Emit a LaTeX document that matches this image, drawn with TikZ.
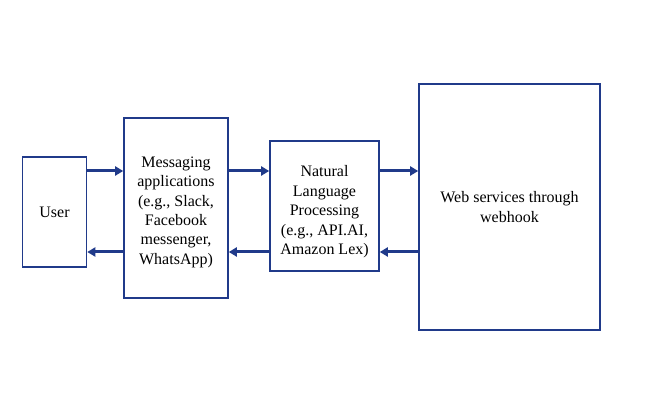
\documentclass[tikz,border=0pt]{standalone}
\usepackage{fontspec}
\setmainfont{Liberation Serif}
\usepackage{xcolor}
\usepackage{tikz}
\usetikzlibrary{arrows.meta,positioning,calc}

\definecolor{boxblue}{HTML}{203A8A}
% push a text block down inside its box
\newcommand{\pushdown}[1]{\rule{0pt}{#1}}

\begin{document}
\begin{tikzpicture}[
    x=1pt, y=1pt,
    block/.style={draw=boxblue, line width=1.6pt, align=center, inner sep=2pt,
        font=\fontsize{16}{19.4}\selectfont},
    flow/.style={draw=boxblue, line width=3pt, -{Triangle[length=8pt,width=9pt]}}
]
    \useasboundingbox (0,0) rectangle (649,415);

    % Boxes
    \node[block, minimum width=64pt, minimum height=110pt] (user) at (54.5,203) {User};
    \node[block, minimum width=104pt, minimum height=180pt] (msg) at (176,207)
        {\pushdown{19pt}Messaging\\applications\\(e.g., Slack,\\Facebook\\messenger,\\WhatsApp)};
    \node[block, minimum width=109pt, minimum height=130pt] (nlp) at (324.5,209)
        {\pushdown{23pt}Natural\\Language\\Processing\\(e.g., API.AI,\\Amazon Lex)};
    \node[block, minimum width=181pt, minimum height=246pt] (web) at (509.5,208)
        {Web services through\\webhook};

    % Levels of the arrows
    \coordinate (upper) at (0,244);
    \coordinate (lower) at (0,163);

    % Forward arrows
    \draw[flow] (user.east |- upper) -- (msg.west |- upper);
    \draw[flow] (msg.east |- upper) -- (nlp.west |- upper);
    \draw[flow] (nlp.east |- upper) -- (web.west |- upper);

    % Backward arrows
    \draw[flow] (msg.west |- lower) -- (user.east |- lower);
    \draw[flow] (nlp.west |- lower) -- (msg.east |- lower);
    \draw[flow] (web.west |- lower) -- (nlp.east |- lower);
\end{tikzpicture}
\end{document}
